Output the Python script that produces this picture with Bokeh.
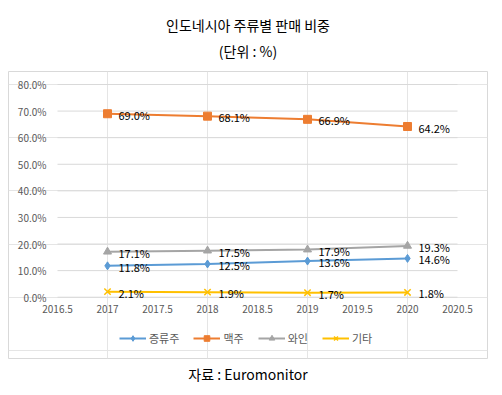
from bokeh.plotting import figure
from bokeh.models import (ColumnDataSource, FixedTicker, Legend, LegendItem, Div,
                          LinearAxis)
from bokeh.layouts import column
from bokeh.core.properties import value
from bokeh.embed import file_html
from bokeh.resources import INLINE

years = [2017, 2018, 2019, 2020]
series_names = ["증류주", "맥주", "와인", "기타"]
spirits = [11.8, 12.5, 13.6, 14.6]
beer = [69.0, 68.1, 66.9, 64.2]
wine = [17.1, 17.5, 17.9, 19.3]
other = [2.1, 1.9, 1.7, 1.8]
x_ticks = [2016.5, 2017, 2017.5, 2018, 2018.5, 2019, 2019.5, 2020, 2020.5]
x_tick_labels = ["2016.5", "2017", "2017.5", "2018", "2018.5", "2019", "2019.5", "2020", "2020.5"]
y_ticks = [0, 10, 20, 30, 40, 50, 60, 70, 80]
y_tick_labels = ["0.0%", "10.0%", "20.0%", "30.0%", "40.0%", "50.0%", "60.0%", "70.0%", "80.0%"]
title_text = "인도네시아 주류별 판매 비중"
subtitle_text = "(단위 : %)"
source_text = "자료 : Euromonitor"

FONT = "Noto Sans CJK KR"
x_min, x_max = x_ticks[0], x_ticks[-1]
y_min, y_max = y_ticks[0], y_ticks[-1]

# frame = whole chart box; axes sit inside it at fixed locations
p = figure(width=481, height=289, x_range=(2016.01, 2020.80), y_range=(-23.05, 84.89),
           output_backend="svg", toolbar_location=None,
           x_axis_location=None, y_axis_location=None,
           min_border_left=1, min_border_right=1, min_border_top=1, min_border_bottom=1)
p.margin = (0, 0, 0, 7)
p.outline_line_color = "#d9d9d9"
p.border_fill_color = "white"
p.outline_line_width = 1

xaxis = LinearAxis(fixed_location=y_min, ticker=FixedTicker(ticks=x_ticks))
xaxis.major_label_overrides = {t: l for t, l in zip(x_ticks, x_tick_labels)}
xaxis.major_label_standoff = 8
yaxis = LinearAxis(fixed_location=x_min, ticker=FixedTicker(ticks=y_ticks))
yaxis.major_label_overrides = {t: l for t, l in zip(y_ticks, y_tick_labels)}
yaxis.major_label_standoff = 11
for ax in (xaxis, yaxis):
    ax.axis_line_color = None
    ax.major_tick_line_color = None
    ax.minor_tick_line_color = None
    ax.major_tick_out = 0
    ax.major_tick_in = 0
    ax.minor_tick_out = 0
    ax.minor_tick_in = 0
    ax.major_label_text_font = FONT
    ax.major_label_text_font_size = "10px"
    ax.major_label_text_color = "#595959"
p.add_layout(xaxis, "below")
p.add_layout(yaxis, "left")

# horizontal gridlines spanning only the plotting area
p.segment(x0=[x_min] * len(y_ticks), x1=[x_max] * len(y_ticks), y0=y_ticks, y1=y_ticks,
          line_color="#d9d9d9", line_width=1)

colors = ["#5B9BD5", "#ED7D31", "#A5A5A5", "#FFC000"]
markers = ["diamond", "square", "triangle", "x"]
msizes = [8, 8, 8, 9]
data = [spirits, beer, wine, other]

items = []
for name, vals, c, m, ms in zip(series_names, data, colors, markers, msizes):
    src = ColumnDataSource(dict(x=years, y=vals, lab=[f"{v:.1f}%" for v in vals]))
    r1 = p.line("x", "y", source=src, line_color=c, line_width=2)
    if m == "x":
        r2 = p.scatter("x", "y", source=src, marker=m, size=ms, line_color=c, line_width=1.5)
    else:
        r2 = p.scatter("x", "y", source=src, marker=m, size=ms, fill_color=c, line_color=c)
    p.text("x", "y", text="lab", source=src, x_offset=11, y_offset=1,
           text_font=value(FONT), text_font_size="11px", text_color="#000000",
           text_align="left", text_baseline="middle")
    items.append(LegendItem(label=name, renderers=[r1, r2]))

legend = Legend(items=items, orientation="horizontal", location=(111, 12),
                label_text_font=FONT, label_text_font_size="11px", label_text_color="#595959",
                border_line_color=None, background_fill_alpha=0, glyph_width=27,
                glyph_height=14, spacing=14, margin=0, padding=2, label_standoff=3)
p.add_layout(legend)

title_div = Div(width=480, height=70, margin=(0, 0, 0, 8), text=(
    f'<div style="width:480px;height:70px;position:relative;font-family:\'{FONT}\';color:#000">'
    f'<div style="position:absolute;top:15px;width:100%;text-align:center;font-size:14px;line-height:20px">{title_text}</div>'
    f'<div style="position:absolute;top:41px;width:100%;text-align:center;font-size:14px;line-height:20px">{subtitle_text}</div>'
    '</div>'))
source_div = Div(width=480, height=35, margin=(0, 0, 0, 8), text=(
    f'<div style="width:480px;height:35px;position:relative;font-family:\'{FONT}\';color:#000">'
    f'<div style="position:absolute;top:5px;width:100%;text-align:center;font-size:14px;line-height:20px">{source_text}</div>'
    '</div>'))

layout = column(title_div, p, source_div, spacing=0)
open("out.html", "w").write(file_html(layout, INLINE))
